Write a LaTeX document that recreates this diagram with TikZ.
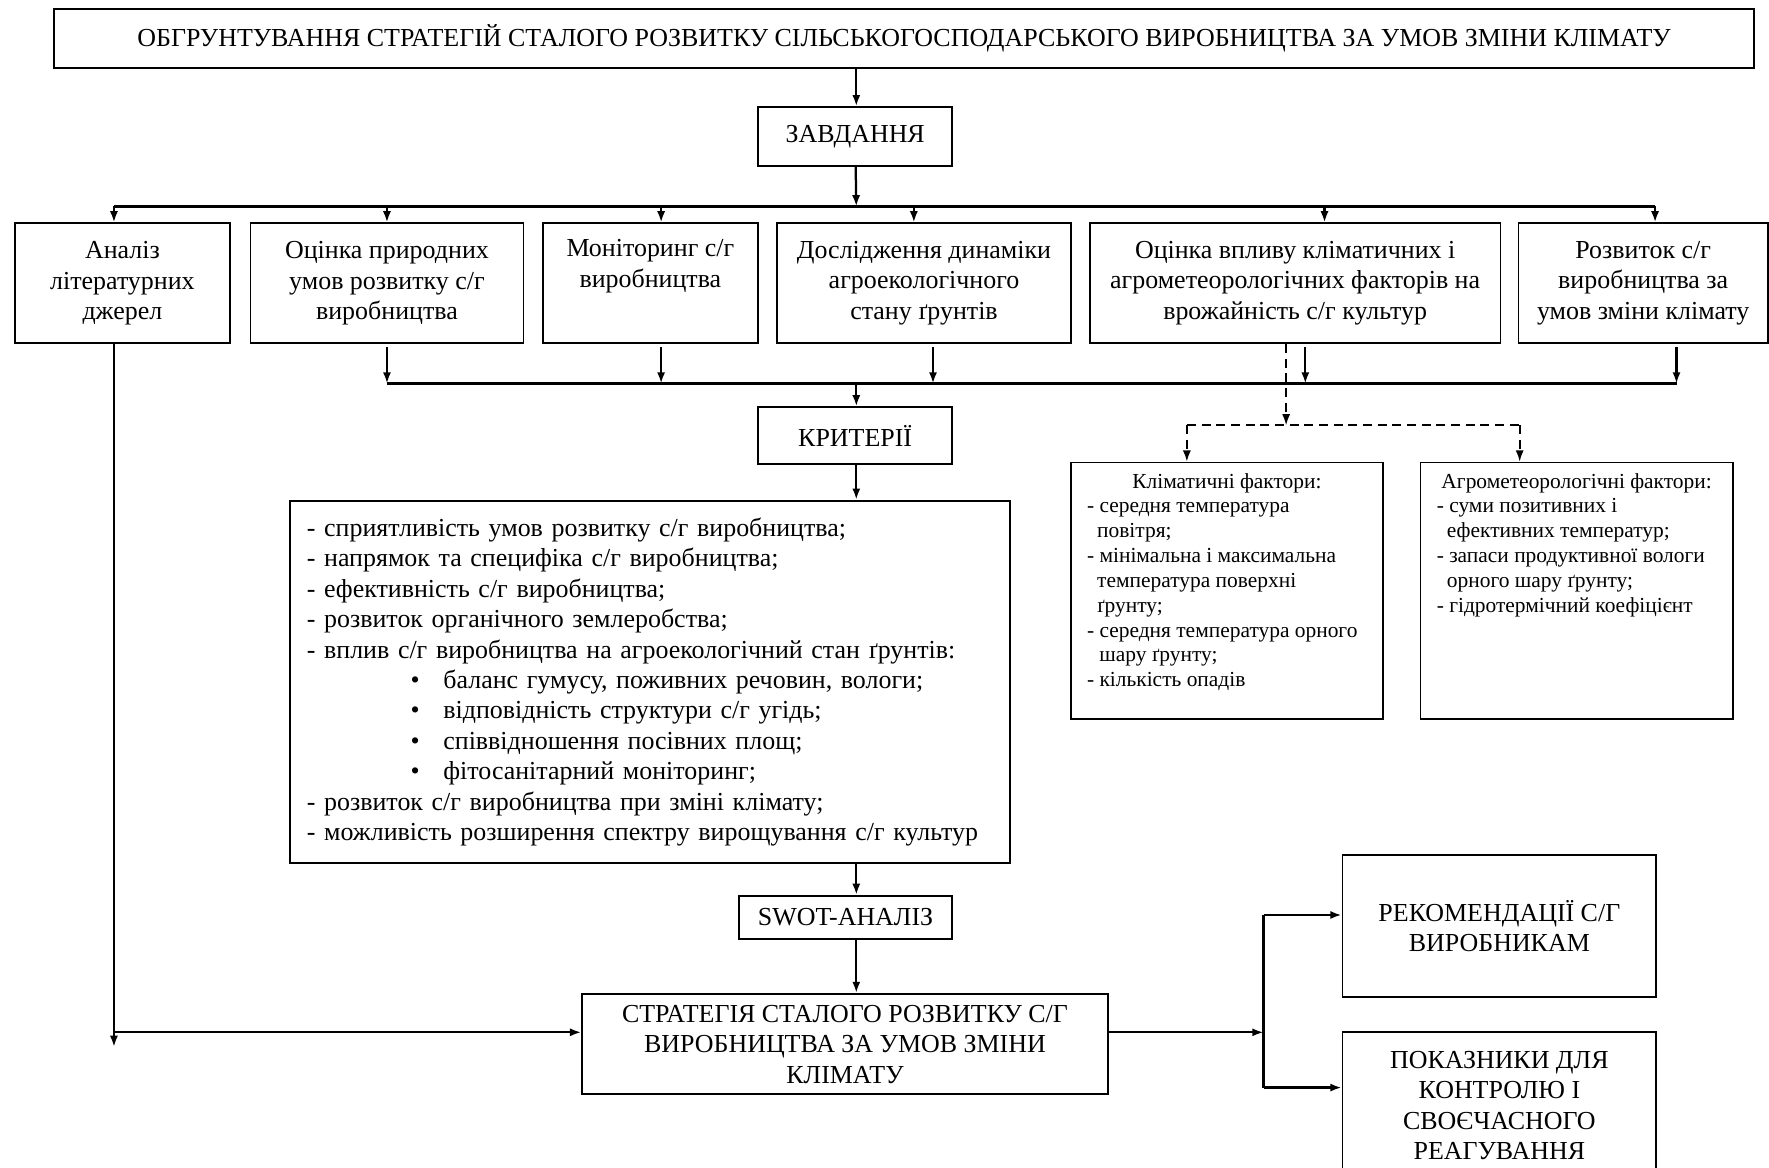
\documentclass[tikz,border=0pt]{standalone}
\usepackage{fontspec}
\setmainfont{Liberation Serif}
\usetikzlibrary{positioning, arrows.meta}

\tikzset{
  box/.style={draw, line width=0.8pt, inner sep=2pt, align=center, font=\fontsize{11.5}{13.5}\selectfont},
  arr/.style={line width=1pt, -{Latex[length=5pt,width=3.6pt]}},
  bus/.style={line width=1pt},
  dbus/.style={line width=0.8pt, dash pattern=on 4pt off 2.5pt},
  darr/.style={dbus, -{Latex[length=5pt,width=3.6pt]}},
  small/.style={font=\fontsize{9.5}{11}\selectfont},
}

\begin{document}
\begin{tikzpicture}[x=0.5pt, y=-0.5pt]
\useasboundingbox (0,0) rectangle (1568,1035);
\clip (0,0) rectangle (1568,1035);

\node[box, minimum width=753.5pt, minimum height=26pt](title) at (801.5,34) {ОБГРУНТУВАННЯ СТРАТЕГІЙ СТАЛОГО РОЗВИТКУ СІЛЬСЬКОГОСПОДАРСЬКОГО ВИРОБНИЦТВА ЗА УМОВ ЗМІНИ КЛІМАТУ};
\node[box, minimum width=86pt, minimum height=26pt](task) at (758,121) {ЗАВДАННЯ};

\node[box, minimum width=95.5pt, minimum height=53pt](a1) at (108.5,251) {Аналіз\\літературних\\джерел};
\node[box, minimum width=121pt, minimum height=53pt](a2) at (343,251) {Оцінка природних\\умов розвитку с/г\\виробництва};
\node[box, minimum width=95.5pt, minimum height=53pt](a3) at (576.5,251) {Моніторинг с/г\\виробництва\\\strut};
\node[box, minimum width=130pt, minimum height=53pt](a4) at (819,251) {Дослідження динаміки\\агроекологічного\\стану ґрунтів};
\node[box, minimum width=182pt, minimum height=53pt](a5) at (1148,251) {Оцінка впливу кліматичних і\\агрометеорологічних факторів на\\врожайність с/г культур};
\node[box, minimum width=110.5pt, minimum height=53pt](a6) at (1456.5,251) {Розвиток с/г\\виробництва за\\умов зміни клімату};

\node[box, minimum width=86pt, minimum height=25pt](crit) at (758,386) {КРИТЕРІЇ};
\node[box, text width=304pt, inner sep=7.5pt, minimum height=157.5pt, align=left](list) at (576,604.5) {%
- сприятливість умов розвитку с/г виробництва;\\
- напрямок та специфіка с/г виробництва;\\
- ефективність с/г виробництва;\\
- розвиток органічного землеробства;\\
- вплив с/г виробництва на агроекологічний стан ґрунтів:\\
\hspace*{46pt}\makebox[14.5pt][l]{•}баланс гумусу, поживних речовин, вологи;\\
\hspace*{46pt}\makebox[14.5pt][l]{•}відповідність структури с/г угідь;\\
\hspace*{46pt}\makebox[14.5pt][l]{•}співвідношення посівних площ;\\
\hspace*{46pt}\makebox[14.5pt][l]{•}фітосанітарний моніторинг;\\
- розвиток с/г виробництва при зміні клімату;\\
- можливість розширення спектру вирощування с/г культур};

\node[box, small, minimum width=138.5pt, minimum height=113.5pt](klim) at (1087.5,523.5) {\parbox[c][104pt][t]{124pt}{%
{\centering Кліматичні фактори:\par}\raggedright
- середня температура\\
\hspace*{4.5pt}повітря;\\
- мінімальна і максимальна\\
\hspace*{4.5pt}температура поверхні\\
\hspace*{4.5pt}ґрунту;\\
- середня температура орного\\
\hspace*{5.5pt}шару ґрунту;\\
- кількість опадів}};
\node[box, small, minimum width=138.5pt, minimum height=113.5pt](agro) at (1397.5,523.5) {\parbox[c][104pt][t]{124pt}{%
{\centering Агрометеорологічні фактори:\par}\raggedright
- суми позитивних і\\
\hspace*{4.5pt}ефективних температур;\\
- запаси продуктивної вологи\\
\hspace*{4.5pt}орного шару ґрунту;\\
- гідротермічний коефіцієнт}};

\node[box, minimum width=94.5pt, minimum height=19pt](swot) at (749.5,813) {SWOT-АНАЛІЗ};
\node[box, minimum width=233pt, minimum height=44.5pt](strat) at (749,925.5) {СТРАТЕГІЯ СТАЛОГО РОЗВИТКУ С/Г\\ВИРОБНИЦТВА ЗА УМОВ ЗМІНИ\\КЛІМАТУ};
\node[box, minimum width=139pt, minimum height=63pt](rec) at (1329,821) {РЕКОМЕНДАЦІЇ С/Г\\ВИРОБНИКАМ};
\node[box, minimum width=139pt, minimum height=65pt](ind) at (1329,980) {ПОКАЗНИКИ ДЛЯ\\КОНТРОЛЮ І\\СВОЄЧАСНОГО\\РЕАГУВАННЯ};

\coordinate (spine) at (759,0);
\coordinate (t1) at (101,183);
\coordinate (t2) at (343,183);
\coordinate (t3) at (586,183);
\coordinate (t4) at (810,183);
\coordinate (t5) at (1174,183);
\coordinate (t6) at (1467,183);
\coordinate (u0) at (759,340);
\coordinate (u2) at (343,340);
\coordinate (u3) at (586,340);
\coordinate (u4) at (827,340);
\coordinate (u5) at (1157,340);
\coordinate (u6) at (1486,340);
\coordinate (d0) at (1140,377);
\coordinate (d1) at (1052,377);
\coordinate (d2) at (1347,377);
\coordinate (lend) at (101,928);
\coordinate (ljoin) at (101,915);
\coordinate (fork) at (1120,915);
\coordinate (f1) at (1120,811);
\coordinate (f2) at (1120,964);

\draw[arr] (title.south -| spine) -- (spine |- task.north);
\draw[arr] (task) -- (spine |- t1);
\draw[bus] (t1) -- (t6);
\foreach \i in {1,...,6}
  \draw[arr] (t\i) -- (t\i |- a\i.north);

\foreach \i in {2,...,6}
  \draw[arr, shorten <=1.5pt] (u\i |- a\i.south) -- (u\i);
\draw[bus] (u2) -- (u6);
\draw[arr] (u0) -- (u0 |- crit.north);
\draw[arr] (crit.south -| spine) -- (spine |- list.north);
\draw[arr] (list.south -| spine) -- (spine |- swot.north);
\draw[arr] (swot.south -| spine) -- (spine |- strat.north);

\draw[darr] (a5.south -| d0) -- (d0);
\draw[dbus] (d1) -- (d2);
\draw[darr] (d1) -- (d1 |- klim.north);
\draw[darr] (d2) -- (d2 |- agro.north);

\draw[arr] (a1.south -| t1) -- (lend);
\draw[arr] (ljoin) -- (ljoin -| strat.west);
\draw[arr] (strat.east |- fork) -- (fork);
\draw[bus] (f1) -- (f2);
\draw[arr] (f1) -- (f1 -| rec.west);
\draw[arr] (f2) -- (f2 -| ind.west);
\end{tikzpicture}
\end{document}
